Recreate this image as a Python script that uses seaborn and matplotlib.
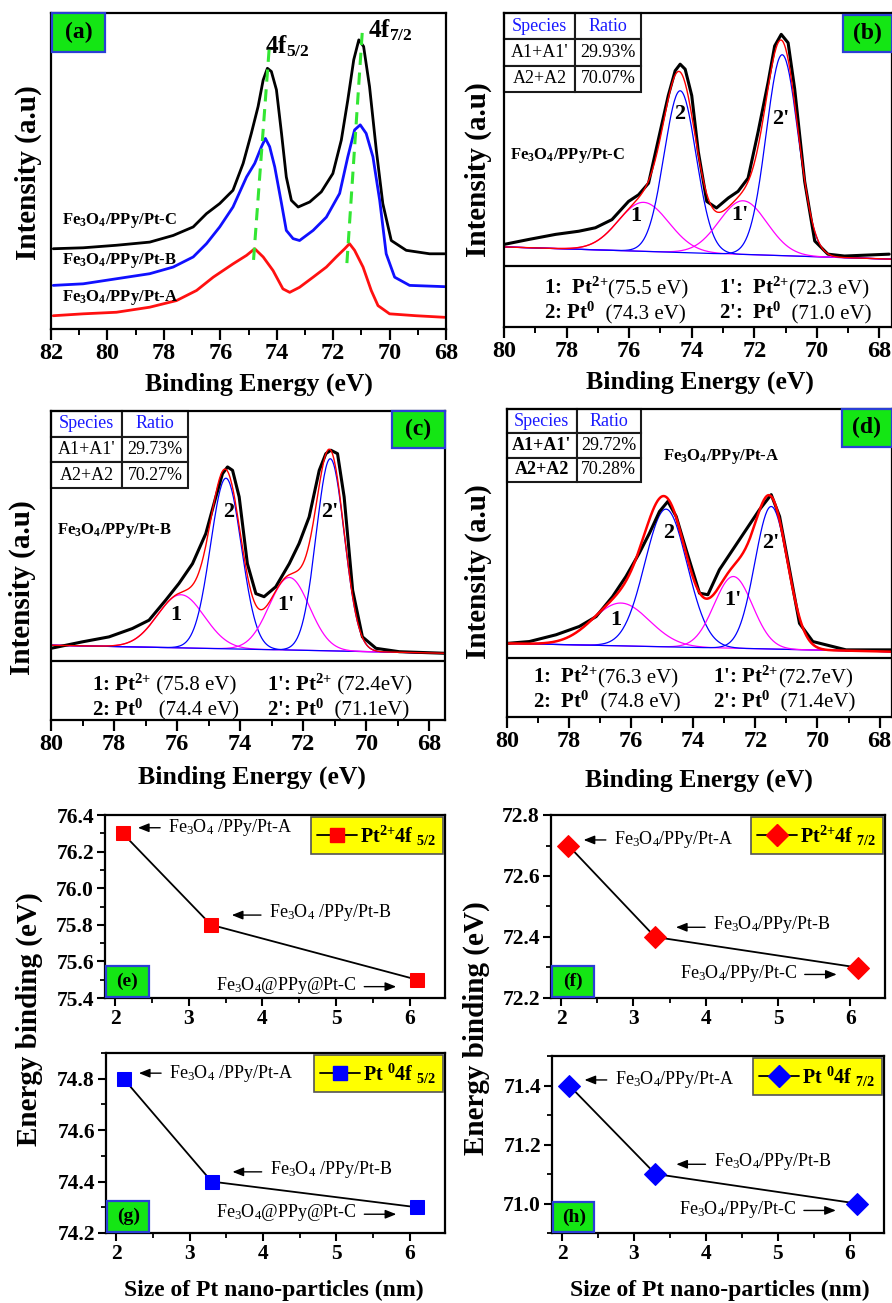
import numpy as np
import matplotlib
matplotlib.use("Agg")
import matplotlib.pyplot as plt
import seaborn as sns
from matplotlib.patches import Rectangle
from matplotlib.lines import Line2D
from matplotlib.ticker import MultipleLocator
from matplotlib.transforms import offset_copy

# ---------------- values ----------------
# (a) Pt 4f spectra of the three samples, intensity in % of the axis height
a_c_ev = [81.92, 80.86, 79.68, 78.50, 77.67, 76.96, 76.49, 76.02, 75.55, 75.19, 74.90, 74.66,
          74.48, 74.33, 74.19, 74.01, 73.83, 73.66, 73.48, 73.24, 72.83, 72.42, 72.01, 71.71,
          71.48, 71.27, 71.09, 70.92, 70.71, 70.47, 70.24, 69.94, 69.41, 68.58, 68.05]
a_c_int = [25.4, 25.7, 26.5, 27.5, 29.6, 32.3, 36.5, 39.7, 43.9, 52.4, 61.9, 70.4, 78.8, 82.5,
           81.5, 75.7, 61.9, 48.1, 40.7, 38.6, 40.2, 43.4, 49.2, 59.8, 72.5, 85.2, 91.5, 89.4,
           76.7, 56.6, 39.7, 28.0, 24.9, 23.8, 23.8]
a_b_ev = [81.92, 80.86, 79.68, 78.50, 77.67, 76.96, 76.49, 76.02, 75.55, 75.07, 74.78, 74.54,
          74.40, 74.25, 74.07, 73.83, 73.66, 73.42, 73.19, 72.71, 72.24, 71.77, 71.48, 71.24,
          71.04, 70.83, 70.59, 70.35, 70.12, 69.82, 69.29, 68.05]
a_b_int = [13.8, 14.3, 15.9, 17.5, 19.6, 22.8, 27.0, 32.3, 38.6, 48.1, 52.4, 57.7, 60.3, 57.7,
           51.3, 39.7, 31.2, 28.6, 28.0, 31.2, 35.4, 42.9, 54.5, 63.0, 64.6, 61.9, 54.5, 40.7,
           23.8, 16.4, 13.8, 13.4]
a_a_ev = [81.92, 80.86, 79.68, 78.50, 77.55, 76.84, 76.25, 75.55, 75.07, 74.78, 74.48, 74.13,
          73.78, 73.54, 73.19, 72.71, 72.24, 71.89, 71.59, 71.42, 71.24, 70.94, 70.65, 70.41,
          70.00, 69.06, 68.05]
a_a_int = [4.2, 4.8, 5.3, 6.9, 9.0, 12.2, 16.4, 20.6, 23.3, 25.4, 22.8, 18.5, 12.7, 11.6, 13.2,
           16.4, 19.6, 22.8, 25.4, 27.0, 24.9, 19.6, 12.2, 7.4, 4.8, 4.2, 3.7]
# peak-shift guide lines (eV, intensity) top -> bottom
guide_52 = ([74.27, 74.84], [88.4, 19.6])
guide_72 = ([70.97, 71.53], [93.7, 18.5])

# (b) Pt-C measured spectrum and fitted components
b_ev = [80.0, 79.2, 78.35, 77.61, 77.08, 76.55, 76.02, 75.70, 75.38, 75.06, 74.75, 74.53, 74.37,
        74.21, 74.00, 73.79, 73.52, 73.21, 72.83, 72.52, 72.20, 71.88, 71.56, 71.35, 71.14, 70.92,
        70.71, 70.39, 70.07, 69.65, 69.12, 67.69]
b_int = [26.3, 27.9, 29.5, 30.5, 31.6, 34.2, 40.0, 42.1, 45.8, 60.0, 73.7, 81.6, 83.7, 82.1, 73.7,
         55.8, 40.0, 37.9, 41.1, 43.2, 47.4, 62.1, 77.9, 89.5, 93.2, 90.5, 75.8, 46.3, 27.4, 23.2,
         22.6, 23.2]
b_pk_ev = [75.54, 74.37, 72.36, 71.11]
b_pk_h = [15.6, 51.5, 17.1, 64.0]
b_pk_w = [1.9, 1.2, 1.8, 1.2]
b_bg = [25.5, 21.6]

# (c) Pt-B
c_ev = [80.0, 79.0, 78.16, 77.42, 76.89, 76.36, 75.94, 75.51, 75.09, 74.77, 74.56, 74.40, 74.24,
        74.03, 73.77, 73.50, 73.24, 72.87, 72.44, 72.13, 71.81, 71.49, 71.28, 71.12, 70.91, 70.70,
        70.43, 70.12, 69.69, 68.95, 67.52]
c_int = [23.2, 25.3, 26.9, 29.6, 32.3, 38.8, 44.2, 50.6, 60.3, 72.2, 79.7, 81.9, 80.8, 72.2, 50.6,
         40.9, 39.9, 43.1, 50.6, 57.1, 65.7, 80.8, 86.2, 87.3, 86.2, 72.2, 42.0, 26.9, 23.2, 22.1,
         21.6]
c_pk_ev = [75.88, 74.45, 72.44, 71.14]
c_pk_h = [17.2, 55.2, 23.5, 62.2]
c_pk_w = [1.75, 1.15, 1.5, 1.05]
c_bg = [24.2, 21.6]

# (d) Pt-A
d_ev = [80.0, 79.28, 78.42, 77.67, 77.13, 76.60, 76.17, 75.74, 75.41, 75.09, 74.82, 74.55, 74.23,
        73.80, 73.53, 73.16, 72.73, 72.30, 71.87, 71.49, 71.22, 70.90, 70.58, 70.15, 69.08, 67.63]
d_int = [23.9, 24.5, 26.7, 29.4, 32.6, 39.1, 45.6, 53.2, 59.7, 66.7, 70.0, 65.1, 54.3, 40.2, 39.7,
         47.8, 54.3, 60.8, 67.3, 72.2, 65.1, 47.8, 30.4, 24.5, 21.8, 21.8]
d_pk_ev = [76.33, 74.88, 72.71, 71.49]
d_pk_h = [13.9, 44.7, 23.3, 46.3]
d_pk_w = [2.15, 1.6, 1.45, 1.24]
d_bg = [23.9, 21.2]

b_table = [["Species", "Ratio"], ["A1+A1'", "29.93%"], ["A2+A2", "70.07%"]]
c_table = [["Species", "Ratio"], ["A1+A1'", "29.73%"], ["A2+A2", "70.27%"]]
d_table = [["Species", "Ratio"], ["A1+A1'", "29.72%"], ["A2+A2", "70.28%"]]

# peak assignments: bold part, regular part
b_notes = [("1:  Pt$^{2{+}}$", "(75.5 eV)"), ("2: Pt$^{0}$", "  (74.3 eV)"),
           ("1':  Pt$^{2{+}}$", "(72.3 eV)"), ("2':  Pt$^{0}$", "  (71.0 eV)")]
c_notes = [("1: Pt$^{2{+}}$", " (75.8 eV)"), ("2: Pt$^{0}$", "   (74.4 eV)"),
           ("1': Pt$^{2{+}}$", " (72.4eV)"), ("2': Pt$^{0}$", "  (71.1eV)")]
d_notes = [("1:  Pt$^{2{+}}$", "(76.3 eV)"), ("2:  Pt$^{0}$", "  (74.8 eV)"),
           ("1': Pt$^{2{+}}$", "(72.7eV)"), ("2': Pt$^{0}$", "  (71.4eV)")]

# (e)-(h) binding energy vs particle size
size_nm = [2.1, 3.3, 6.1]
pt2_f52 = [76.3, 75.8, 75.5]
pt2_f72 = [72.7, 72.4, 72.3]
pt0_f52 = [74.8, 74.4, 74.3]
pt0_f72 = [71.4, 71.1, 71.0]

# ---------------- styling ----------------
sns.set_theme(style="ticks")
plt.rcParams["font.family"] = ["Liberation Serif", "DejaVu Serif"]
plt.rcParams["font.weight"] = "bold"
plt.rcParams["mathtext.fontset"] = "custom"
plt.rcParams["mathtext.rm"] = "Liberation Serif"
plt.rcParams["mathtext.bf"] = "Liberation Serif:bold"
plt.rcParams["mathtext.it"] = "Liberation Serif:italic"
plt.rcParams["mathtext.default"] = "regular"
plt.rcParams["axes.linewidth"] = 1.6
for key in ("text.color", "axes.labelcolor", "axes.edgecolor", "xtick.color", "ytick.color"):
    plt.rcParams[key] = "black"

W, H = 892, 1303
fig = plt.figure(figsize=(W / 100, H / 100), dpi=100)


def add_axes(x0, y0, x1, y1):
    # pixel box -> figure fraction
    return fig.add_axes([x0 / W, 1 - y1 / H, (x1 - x0) / W, (y1 - y0) / H])


def tag(ax, s, x0, y0, w, h, size):
    ax.add_patch(Rectangle((x0, y0), w, h, transform=ax.transAxes, facecolor="#14e614",
                           edgecolor="#2a3fd6", lw=1.6, clip_on=False, zorder=6))
    ax.text(x0 + w / 2, y0 + h / 2, s, transform=ax.transAxes, ha="center", va="center",
            fontsize=size, fontweight="bold", zorder=7)


def spectrum_axis(ax, xmax, xmin):
    ax.set_xlim(xmax, xmin)
    ax.set_ylim(0, 100)
    ax.set_yticks([])
    ticks = np.arange(68, xmax + 1, 2)
    ax.set_xticks(ticks)
    ax.set_xticklabels([f"{t:d}" for t in ticks], fontweight="bold")
    ax.xaxis.set_minor_locator(MultipleLocator(1))
    ax.tick_params(axis="x", which="major", direction="out", length=8, width=1.6, labelsize=17.5, pad=2)
    ax.tick_params(axis="x", which="minor", direction="out", length=4, width=1.4)


# ---------------- (a) ----------------
ax = add_axes(51, 13, 446, 329)
sns.lineplot(x=a_c_ev, y=a_c_int, ax=ax, color="black", lw=2.0, estimator=None)
sns.lineplot(x=a_b_ev, y=a_b_int, ax=ax, color="#1010ff", lw=2.0, estimator=None)
sns.lineplot(x=a_a_ev, y=a_a_int, ax=ax, color="#ff1010", lw=2.0, estimator=None)
spectrum_axis(ax, 82, 68)
for gx, gy in (guide_52, guide_72):
    ax.plot(gx, gy, color="#33e633", lw=2.2, ls=(0, (4, 2.5)), zorder=5)
ax.text(74.43, 89.5, r"4f$_{5/2}$", fontsize=18, fontweight="bold", va="center")
ax.text(70.77, 94.5, r"4f$_{7/2}$", fontsize=18, fontweight="bold", va="center")
for lab, yy in (("C", 34.4), ("B", 21.7), ("A", 10.1)):
    ax.text(81.62, yy, r"Fe$_3$O$_4$/PPy/Pt-" + lab, fontsize=12, fontweight="bold", va="center")
tag(ax, "(a)", 0.003, 0.876, 0.134, 0.124, 17)


# ---------------- (b), (c), (d) ----------------
def fit_panel(box, xmin, ev, counts, pk_ev, pk_h, pk_w, bg, sep, table, tbox, bold_rows,
              notes, note_pos, sample, sample_pos, peak_lab_pos, tagbox, red_lw):
    ax = add_axes(*box)
    grid = np.linspace(80, xmin, 500)
    base = np.interp(grid, [xmin, 80], [bg[1], bg[0]])
    total = base.copy()
    for k, (c, h, w) in enumerate(zip(pk_ev, pk_h, pk_w)):
        comp = h * np.exp(-4 * np.log(2) * ((grid - c) / w) ** 2)
        total += comp
        col = "#ff00ff" if k % 2 == 0 else "#0000ff"
        sns.lineplot(x=grid, y=base + comp, ax=ax, color=col, lw=0.9, estimator=None)
    sns.lineplot(x=ev, y=counts, ax=ax, color="black", lw=2.2, estimator=None)
    sns.lineplot(x=grid, y=total, ax=ax, color="#ff0000", lw=red_lw, estimator=None)
    spectrum_axis(ax, 80, xmin)
    ax.axhline(sep, color="black", lw=1.6)
    for s, (px, py) in zip(["1", "2", "1'", "2'"], peak_lab_pos):
        ax.text(px, py, s, fontsize=16, fontweight="bold", ha="center", va="center")
    ax.text(sample_pos[0], sample_pos[1], sample, fontsize=12, fontweight="bold", va="center")
    for (sb, sr), (nx, ny) in zip(notes, note_pos):
        t = ax.text(nx, ny, sb, transform=ax.transAxes, fontsize=15, fontweight="bold", va="baseline")
        ax.annotate(sr, xy=(1, 0), xycoords=t, va="bottom", ha="left",
                    fontsize=15, fontweight="normal")
    tbl = ax.table(cellText=table, bbox=tbox, cellLoc="center", colWidths=[0.52, 0.48])
    tbl.auto_set_font_size(False)
    tbl.set_fontsize(13)
    for (r, cidx), cell in tbl.get_celld().items():
        cell.set_linewidth(1.5)
        cell.set_facecolor("white")
        weight = "bold" if (bold_rows and r > 0 and cidx == 0) else "normal"
        color = "#1a1aff" if r == 0 else "black"
        cell.set_text_props(fontweight=weight, color=color, fontsize=13)
    tag(ax, tagbox[0], *tagbox[1:], 17)
    return ax


fit_panel((504, 13, 892, 327), 67.6, b_ev, b_int, b_pk_ev, b_pk_h, b_pk_w, b_bg, 19.5,
          b_table, [0, 0.748, 0.353, 0.252], False, b_notes,
          [(0.103, 0.105), (0.103, 0.025), (0.554, 0.105), (0.554, 0.025)],
          r"Fe$_3$O$_4$/PPy/Pt-C", (79.82, 54.7),
          [(75.8, 35.3), (74.37, 67.9), (72.46, 35.8), (71.14, 66.3)],
          ("(b)", 0.873, 0.877, 0.127, 0.117), 1.0)

fit_panel((51, 411, 445, 720), 67.5, c_ev, c_int, c_pk_ev, c_pk_h, c_pk_w, c_bg, 19.1,
          c_table, [0, 0.751, 0.348, 0.249], False, c_notes,
          [(0.104, 0.095), (0.104, 0.014), (0.548, 0.095), (0.548, 0.014)],
          r"Fe$_3$O$_4$/PPy/Pt-B", (79.8, 61.4),
          [(76.04, 33.9), (74.37, 67.3), (72.55, 37.2), (71.17, 67.3)],
          ("(c)", 0.865, 0.88, 0.135, 0.12), 1.0)

fit_panel((507, 409, 892, 717), 67.6, d_ev, d_int, d_pk_ev, d_pk_h, d_pk_w, d_bg, 19.2,
          d_table, [0, 0.763, 0.348, 0.237], True, d_notes,
          [(0.068, 0.11), (0.068, 0.03), (0.535, 0.11), (0.535, 0.03)],
          r"Fe$_3$O$_4$/PPy/Pt-A", (74.98, 84.6),
          [(76.49, 31.5), (74.79, 59.7), (72.73, 38.0), (71.49, 56.4)],
          ("(d)", 0.87, 0.877, 0.13, 0.123), 1.8)

# ---------------- (e)-(h) ----------------
small = [
    ((105, 815, 445, 998), pt2_f52, "s", "#ff0000", (75.4, 76.4), r"Pt$^{2{+}}$4f $_{5/2}$", "(e)", "@"),
    ((551, 815, 885, 998), pt2_f72, "D", "#ff0000", (72.2, 72.8), r"Pt$^{2{+}}$4f $_{7/2}$", "(f)", "/"),
    ((106, 1053, 445, 1233), pt0_f52, "s", "#0000ff", (74.2, 74.9), r"Pt $^{0}$4f $_{5/2}$", "(g)", "@"),
    ((552, 1056, 884, 1233), pt0_f72, "D", "#0000ff", (70.9, 71.5), r"Pt $^{0}$4f $_{7/2}$", "(h)", "/"),
]
for box, vals, mk, col, ylim, leg, lab, sepc in small:
    ax = add_axes(*box)
    ms = 10 if mk == "s" else 11
    sns.lineplot(x=size_nm, y=vals, ax=ax, color="black", lw=1.3, marker=mk, markersize=ms,
                 markerfacecolor=col, markeredgecolor=col, estimator=None)
    ax.set_xlim(1.86, 6.48)
    ax.set_ylim(*ylim)
    xt = [2, 3, 4, 5, 6]
    ax.set_xticks(xt)
    ax.set_xticklabels([str(v) for v in xt], fontweight="bold")
    lo = np.ceil(ylim[0] / 0.2 - 1e-6) * 0.2
    yt = np.arange(lo, ylim[1] + 1e-6, 0.2)
    ax.set_yticks(yt)
    ax.set_yticklabels([f"{v:.1f}" for v in yt], fontweight="bold")
    ax.xaxis.set_minor_locator(MultipleLocator(0.5))
    ax.yaxis.set_minor_locator(MultipleLocator(0.1))
    ax.tick_params(which="major", direction="out", length=6, width=1.5, labelsize=15.5, pad=2)
    ax.tick_params(which="minor", direction="out", length=3.5, width=1.3)
    ax.set_xlabel("")
    ax.set_ylabel("")
    handle = Line2D([], [], color="black", lw=1.3, marker=mk, markersize=ms,
                    markerfacecolor=col, markeredgecolor=col)
    lg = ax.legend([handle], [leg], loc="upper right", fancybox=False, framealpha=1,
                   facecolor="#ffff00", edgecolor="#555555", borderaxespad=0.12,
                   handlelength=2.0, handletextpad=0.15, borderpad=0.3,
                   prop=dict(size=14.5, weight="bold"))
    lg.get_frame().set_linewidth(1.2)
    # sample labels with arrows (offsets in points from each marker)
    names = [r"Fe$_3$O$_4$ /PPy/Pt-A" if sepc == "@" else r"Fe$_3$O$_4$/PPy/Pt-A",
             r"Fe$_3$O$_4$ /PPy/Pt-B" if sepc == "@" else r"Fe$_3$O$_4$/PPy/Pt-B",
             r"Fe$_3$O$_4$@PPy@Pt-C" if sepc == "@" else r"Fe$_3$O$_4$/PPy/Pt-C"]
    offs = [(11, 27, 33, 4, 4, "left"), (15, 36, 42, 7, 9, "left"), (-15, -38, -43, -5, -4, "right")]
    for (xv, yv), name, (hx, tx, lx, ady, tdy, ha) in zip(zip(size_nm, vals), names, offs):
        head = offset_copy(ax.transData, fig=fig, x=hx, y=ady, units="points")
        tail = offset_copy(ax.transData, fig=fig, x=tx, y=ady, units="points")
        ax.annotate("", xy=(xv, yv), xycoords=head, xytext=(xv, yv), textcoords=tail,
                    arrowprops=dict(arrowstyle="-|>,head_length=0.55,head_width=0.22",
                                    color="black", lw=1.0, shrinkA=0, shrinkB=0))
        ax.annotate(name, xy=(xv, yv), xytext=(lx, tdy), textcoords="offset points",
                    ha=ha, va="center", fontsize=13, fontweight="normal")
    tag(ax, lab, 0.003, 0.004, 0.125, 0.172, 14)

# ---------------- axis titles ----------------
for x, y in ((28, 173), (478, 170), (22, 588), (478, 572)):
    fig.text(x / W, 1 - y / H, "Intensity (a.u)", rotation=90, ha="center", va="center",
             fontsize=21, fontweight="bold")
for x, y in ((259, 384), (700, 382), (252, 777), (699, 780)):
    fig.text(x / W, 1 - y / H, "Binding Energy (eV)", ha="center", va="center",
             fontsize=18.5, fontweight="bold")
for x, y in ((29, 1019), (476, 1028)):
    fig.text(x / W, 1 - y / H, "Energy binding (eV)", rotation=90, ha="center", va="center",
             fontsize=21, fontweight="bold")
for x, y in ((274, 1290), (720, 1290)):
    fig.text(x / W, 1 - y / H, "Size of Pt nano-particles (nm)", ha="center", va="center",
             fontsize=17, fontweight="bold")

fig.savefig("out.png", dpi=100, facecolor="white")
